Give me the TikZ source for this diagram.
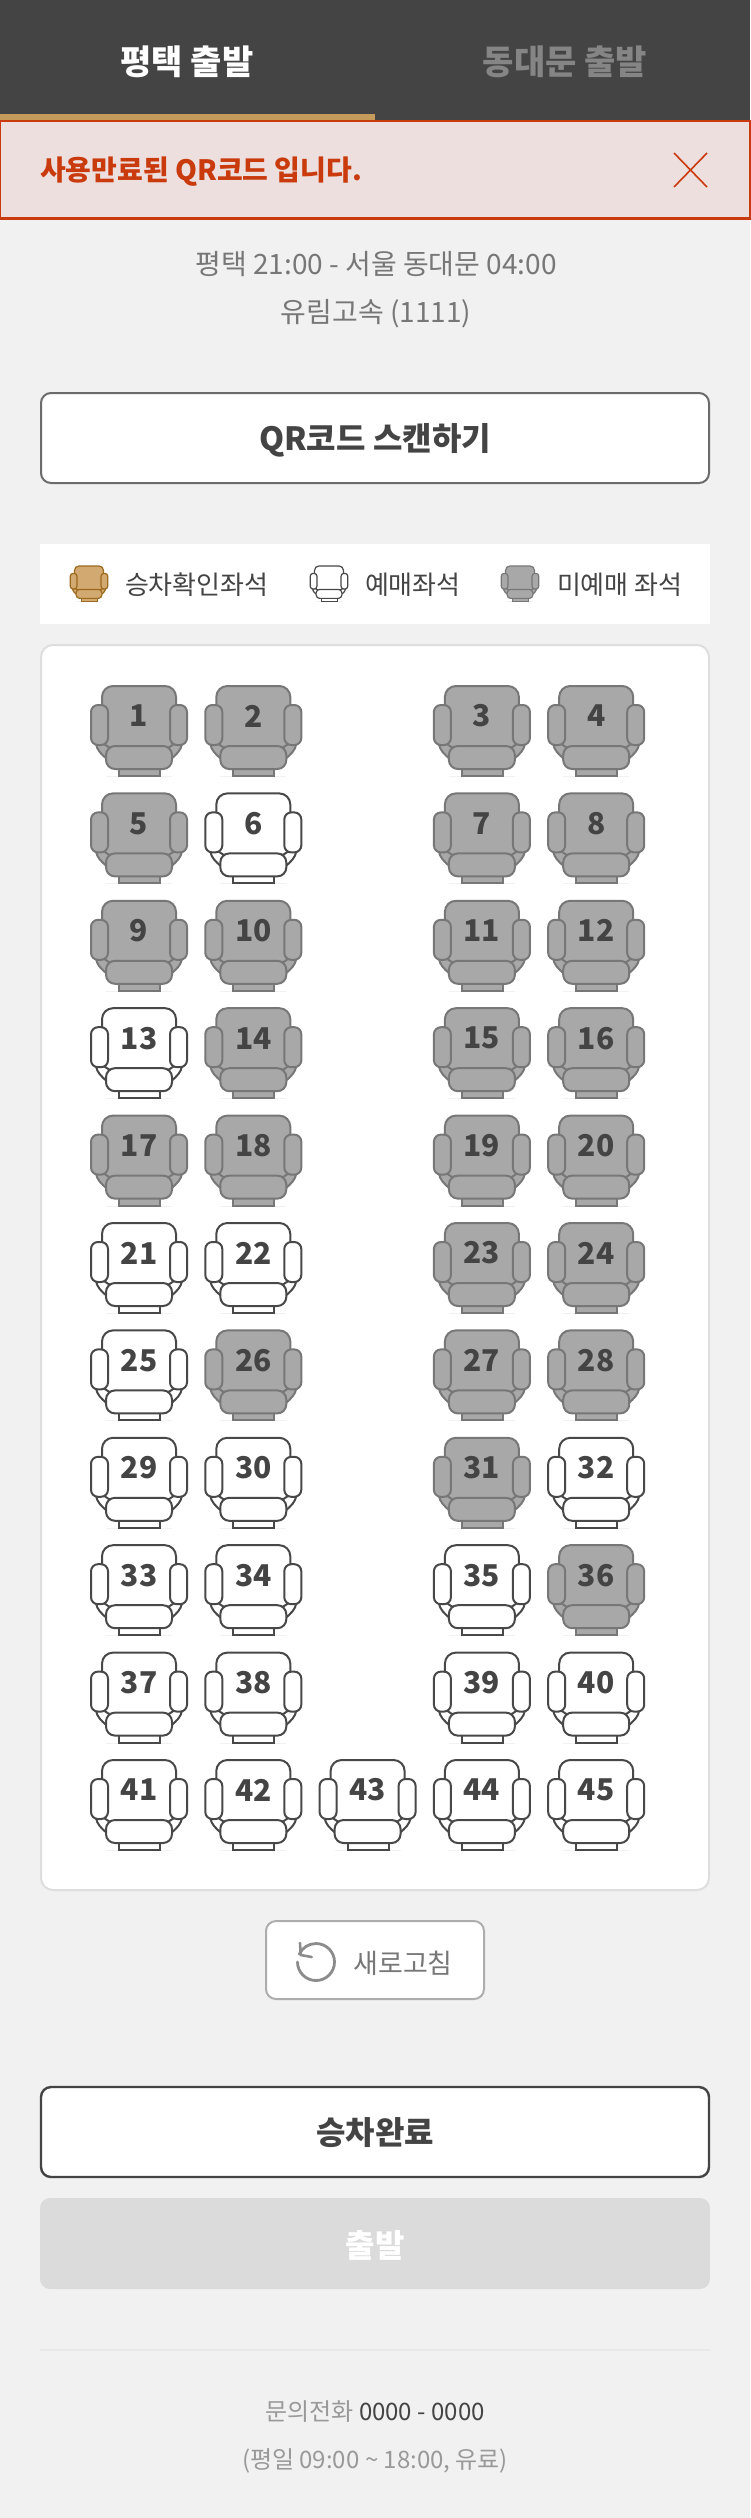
\documentclass[tikz,border=0pt]{standalone}
\usepackage{fontspec}
\newfontfamily\kr{Noto Sans CJK KR}
\definecolor{pagebg}{HTML}{F1F1F1}
\definecolor{headbg}{HTML}{444444}
\definecolor{gold}{HTML}{C49B5A}
\definecolor{alertred}{HTML}{C93A0C}
\definecolor{alertbg}{HTML}{EEDFDF}
\definecolor{seatgray}{HTML}{A8A8A8}
\definecolor{seatedge}{HTML}{777777}
\definecolor{seatdark}{HTML}{484848}
\definecolor{goldfill}{HTML}{D2A970}
\definecolor{goldedge}{HTML}{9C6A1E}
\tikzset{
  txt/.style={inner sep=0pt,outer sep=0pt,anchor=center,font=\kr},
  seatnum/.style={inner sep=0pt,outer sep=0pt,anchor=center,text=headbg,font=\kr\bfseries\fontsize{30}{30}\selectfont},
}
\newcommand{\seatshape}[6]{%
  \begin{scope}[shift={(#1,#2)},x=#3pt,y=-#3pt,line width=#6pt,draw=#5,fill=#4,rounded corners=0pt]
    \fill[white!85!black,opacity=.35] (-33,90) rectangle (33,91);
    \filldraw (-20,82) rectangle (21,90);
    \filldraw (-43,58) .. controls (-42,64) and (-38,68) .. (-32,73) -- (32,73) .. controls (38,68) and (42,64) .. (43,58) -- cycle;
    \filldraw[rounded corners=#3*11pt] (-37,0) rectangle (37,62);
    \filldraw[rounded corners=#3*7pt] (-48,19) rectangle (-31,59);
    \filldraw[rounded corners=#3*7pt] (31,19) rectangle (48,59);
    \filldraw[rounded corners=#3*9pt] (-33,60) rectangle (33,83);
  \end{scope}}
\newcommand{\seat}[4]{%
  \ifnum#4=1 \seatshape{#2}{#3}{1}{white}{seatdark}{2}\else\seatshape{#2}{#3}{1}{seatgray}{seatedge}{2}\fi
  \node[seatnum] (seat#1) at (#2,#3+30) {#1};}
\begin{document}
\begin{tikzpicture}[x=1pt,y=-1pt]
\useasboundingbox (0,0) rectangle (750,2518);
\fill[pagebg] (0,0) rectangle (750,2518);
\fill[headbg] (0,0) rectangle (750,120);
\fill[gold] (0,114) rectangle (375,120);
\node[txt,text=white,font=\kr\bfseries\fontsize{34}{34}\selectfont] (tab1) at (187,62) {평택 출발};
\node[txt,text=seatedge!90!white,font=\kr\bfseries\fontsize{34}{34}\selectfont] (tab2) at (565,62) {동대문 출발};
\draw[line width=2.5pt,draw=alertred,fill=alertbg] (0,121) rectangle (750,218.5);
\node[txt,anchor=west,text=alertred,font=\kr\bfseries\fontsize{28}{28}\selectfont] (alert) at (40,172) {사용만료된 QR코드 입니다.};
\coordinate (xa) at (674,153); \coordinate (xb) at (707,187);
\coordinate (xc) at (707,153); \coordinate (xd) at (674,187);
\draw[alertred,line width=1.6pt] (xa) -- (xb);
\draw[alertred,line width=1.6pt] (xc) -- (xd);
\node[txt,text=seatedge,font=\kr\fontsize{28}{28}\selectfont] (route) at (376,264) {평택 21:00 - 서울 동대문 04:00};
\node[txt,text=seatedge,font=\kr\fontsize{28}{28}\selectfont] (bus) at (376,314) {유림고속 (1111)};
\draw[line width=2pt,draw=seatedge!90!black,fill=white,rounded corners=10pt] (41,393) rectangle (709,483);
\node[txt,text=headbg,font=\kr\bfseries\fontsize{32}{32}\selectfont] (qr) at (375,440) {QR코드 스캔하기};
\fill[white] (40,544) rectangle (710,624);
\seatshape{89}{566}{0.39}{goldfill}{goldedge}{1.2}
\node[txt,anchor=west,text=headbg,font=\kr\fontsize{26}{26}\selectfont] (l1) at (125,585) {승차확인좌석};
\seatshape{329}{566}{0.39}{white}{seatdark}{1.2}
\node[txt,anchor=west,text=headbg,font=\kr\fontsize{26}{26}\selectfont] (l2) at (365,585) {예매좌석};
\seatshape{520}{566}{0.39}{seatgray}{seatedge}{1.2}
\node[txt,anchor=west,text=headbg,font=\kr\fontsize{26}{26}\selectfont] (l3) at (557,585) {미예매 좌석};
\draw[line width=2pt,draw=black!13,fill=white,rounded corners=12pt] (41,645) rectangle (709,1890);
\def\colA{139}\def\colB{253.3}\def\colC{367.6}\def\colD{481.9}\def\colE{596.2}
\foreach \n/\c/\r/\f in {
 1/\colA/0/0,2/\colB/0/0,3/\colD/0/0,4/\colE/0/0,
 5/\colA/1/0,6/\colB/1/1,7/\colD/1/0,8/\colE/1/0,
 9/\colA/2/0,10/\colB/2/0,11/\colD/2/0,12/\colE/2/0,
 13/\colA/3/1,14/\colB/3/0,15/\colD/3/0,16/\colE/3/0,
 17/\colA/4/0,18/\colB/4/0,19/\colD/4/0,20/\colE/4/0,
 21/\colA/5/1,22/\colB/5/1,23/\colD/5/0,24/\colE/5/0,
 25/\colA/6/1,26/\colB/6/0,27/\colD/6/0,28/\colE/6/0,
 29/\colA/7/1,30/\colB/7/1,31/\colD/7/0,32/\colE/7/1,
 33/\colA/8/1,34/\colB/8/1,35/\colD/8/1,36/\colE/8/0,
 37/\colA/9/1,38/\colB/9/1,39/\colD/9/1,40/\colE/9/1,
 41/\colA/10/1,42/\colB/10/1,43/\colC/10/1,44/\colD/10/1,45/\colE/10/1}{
  \pgfmathsetmacro{\yy}{686+107.4*\r}
  \seat{\n}{\c}{\yy}{\f}
}
\draw[line width=2pt,draw=black!32,fill=white,rounded corners=10pt] (266,1921) rectangle (484,1999);
\coordinate (ic) at (316,1962);
\draw[line width=2.8pt,draw=black!45,line cap=round] ([shift={(180:18.5)}]ic) arc[start angle=180,end angle=-155,radius=18.5];
\coordinate (ia) at (300,1943); \coordinate (ib) at (300.7,1955); \coordinate (id) at (311.7,1957);
\draw[line width=2.6pt,draw=black!45,line cap=round,line join=round] (ia) -- (ib) -- (id);
\node[txt,text=seatedge,font=\kr\fontsize{27}{27}\selectfont] (refresh) at (403,1963) {새로고침};
\draw[line width=2.4pt,draw=headbg,fill=white,rounded corners=10pt] (41,2087) rectangle (709,2177);
\node[txt,text=headbg,font=\kr\bfseries\fontsize{32}{32}\selectfont] (done) at (375,2133) {승차완료};
\fill[black!14,rounded corners=10pt] (40,2198) rectangle (710,2289);
\node[txt,text=white,font=\kr\bfseries\fontsize{32}{32}\selectfont] (go) at (375,2245) {출발};
\coordinate (la) at (40,2350); \coordinate (lb) at (710,2350);
\draw[line width=1.5pt,black!9] (la) -- (lb);
\node[txt,text=black!40,font=\kr\fontsize{24}{24}\selectfont] (tel) at (375,2411) {문의전화 \textcolor{headbg}{0000 - 0000}};
\node[txt,text=black!40,font=\kr\fontsize{24}{24}\selectfont] (hours) at (375,2461) {(평일 09:00 \char"7E{} 18:00, 유료)};
\end{tikzpicture}
\end{document}
